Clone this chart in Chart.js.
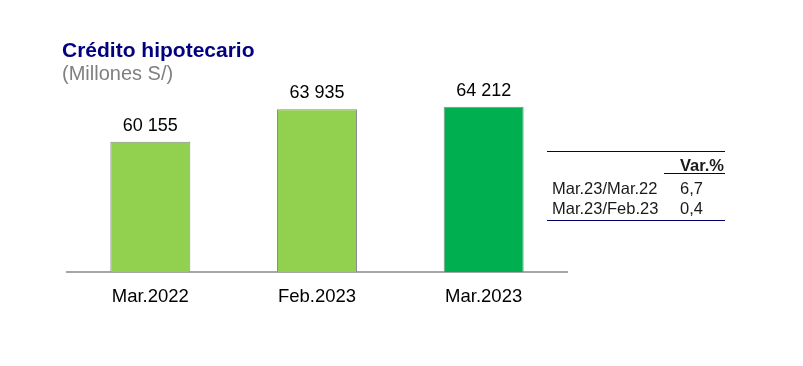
<!DOCTYPE html>
<html>
<head>
<meta charset="utf-8">
<script src="https://cdn.jsdelivr.net/npm/chart.js@4/dist/chart.umd.min.js"></script>
<style>
    html, body { margin: 0; padding: 0; background: #ffffff; }
    body { width: 803px; height: 366px; position: relative; overflow: hidden; font-family: "Liberation Sans", Arial, sans-serif; }
    #chartBox { position: absolute; left: 0; top: 0; width: 803px; height: 366px; }
    .txt { position: absolute; white-space: nowrap; }
    #title { left: 62px; top: 39px; font-size: 21px; line-height: 21px; font-weight: bold; color: #000080; }
    #subtitle { left: 62px; top: 63px; font-size: 20px; line-height: 20px; color: #808080; }
    .rule { position: absolute; height: 1px; background: #000066; }
    .cell { position: absolute; font-size: 16.5px; line-height: 16px; color: #1a1a1a; }
</style>
</head>
<body>
<div id="chartBox"><canvas id="chartCredito" width="803" height="366"></canvas></div>
<div id="title" class="txt">Crédito hipotecario</div>
<div id="subtitle" class="txt">(Millones S/)</div>
<div id="varTable"></div>

<script>
var categories = ['Mar.2022', 'Feb.2023', 'Mar.2023'];
var saldos = [60155, 63935, 64212];
var barColors = ['#92D050', '#92D050', '#00B050'];

var varHeader = 'Var.%';
var varLabels = ['Mar.23/Mar.22', 'Mar.23/Feb.23'];
var varValues = ['6,7', '0,4'];

function formatMiles(v) {
    return String(v).replace(/\B(?=(\d{3})+(?!\d))/g, ' ');
}

var valueLabels = {
    id: 'valueLabels',
    afterDatasetsDraw: function (chart) {
        var ctx = chart.ctx;
        var meta = chart.getDatasetMeta(0);
        ctx.save();
        ctx.font = '18px "Liberation Sans", Arial, sans-serif';
        ctx.fillStyle = '#000000';
        ctx.textAlign = 'center';
        ctx.textBaseline = 'alphabetic';
        meta.data.forEach(function (bar, i) {
            ctx.fillText(formatMiles(saldos[i]), bar.x, bar.y - 11);
        });
        ctx.restore();
    }
};

new Chart(document.getElementById('chartCredito'), {
    type: 'bar',
    data: {
        labels: categories,
        datasets: [{
            data: saldos,
            backgroundColor: barColors,
            borderColor: '#8c8c8c',
            borderWidth: 1,
            categoryPercentage: 1,
            barPercentage: 0.48
        }]
    },
    options: {
        responsive: false,
        animation: false,
        layout: { padding: { left: 67, right: 236, top: 57, bottom: 54 } },
        plugins: { legend: { display: false }, tooltip: { enabled: false } },
        scales: {
            x: {
                afterFit: function (axis) { axis.height = 40; },
                grid: { display: false, drawTicks: false },
                border: { display: true, color: '#a6a6a6', width: 2 },
                ticks: { color: '#000000', padding: 14, font: { size: 18.5, family: '"Liberation Sans", Arial, sans-serif' } }
            },
            y: {
                display: false,
                min: 45000,
                max: 70000
            }
        }
    },
    plugins: [valueLabels]
});

// tabla de variaciones
(function () {
    var box = document.getElementById('varTable');
    var html = '';
    html += '<div class="rule" style="left:547px;top:151px;width:178px;"></div>';
    html += '<div class="cell" style="left:664px;top:157px;width:60px;text-align:right;font-weight:bold;">' + varHeader + '</div>';
    html += '<div class="rule" style="left:664px;top:173px;width:61px;"></div>';
    var tops = [180, 200];
    varLabels.forEach(function (lbl, i) {
        html += '<div class="cell" style="left:552px;top:' + tops[i] + 'px;">' + lbl + '</div>';
        html += '<div class="cell" style="left:664px;top:' + tops[i] + 'px;width:55px;text-align:center;">' + varValues[i] + '</div>';
    });
    html += '<div class="rule" style="left:547px;top:220px;width:178px;"></div>';
    box.innerHTML = html;
})();
</script>
</body>
</html>
